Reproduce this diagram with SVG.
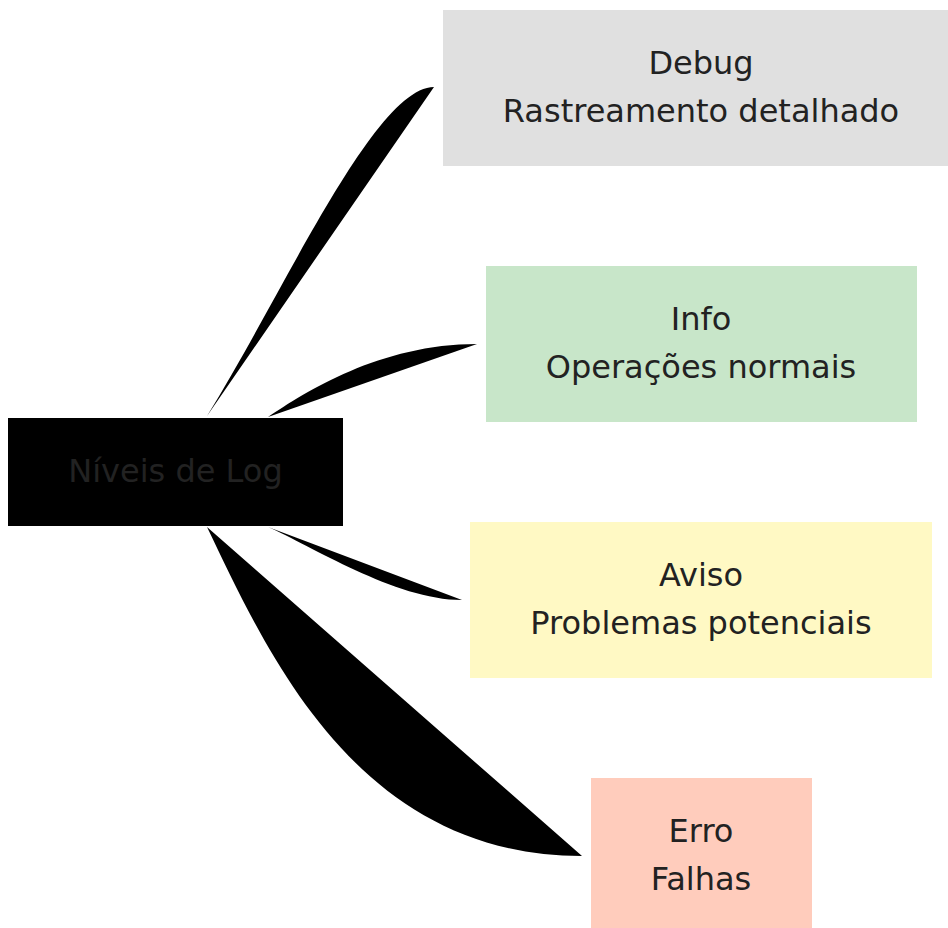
<svg xmlns="http://www.w3.org/2000/svg" width="948" height="928" viewBox="0 0 948 928">
<style>
.lbl{font-family:"DejaVu Sans","Liberation Sans",sans-serif;font-size:32px;fill:#222;text-anchor:middle}
.edge{fill:#000;stroke:none}
</style>
<rect width="948" height="928" fill="#fff"/>
<g id="connectors">
<path class="edge" d="M207,416 C285,290 375,87 434,87 Z"/>
<path class="edge" d="M268,417 C305,392 380,344 477,344 Z"/>
<path class="edge" d="M268,527 C310,545 395,600 462,600 Z"/>
<path class="edge" d="M207,527 C267.5,653 357,856 582,856 Z"/>
</g>
<g id="root">
<rect x="8" y="418" width="335" height="108" fill="#000"/>
<text class="lbl" x="175.5" y="482">Níveis de Log</text>
</g>
<g id="debug">
<rect x="443" y="10" width="516" height="156" fill="#e0e0e0"/>
<text class="lbl" x="701" y="74">Debug</text>
<text class="lbl" x="701" y="122">Rastreamento detalhado</text>
</g>
<g id="info">
<rect x="486" y="266" width="431" height="156" fill="#c8e6c9"/>
<text class="lbl" x="701" y="330">Info</text>
<text class="lbl" x="701" y="378">Operações normais</text>
</g>
<g id="aviso">
<rect x="470" y="522" width="462" height="156" fill="#fff9c4"/>
<text class="lbl" x="701" y="586">Aviso</text>
<text class="lbl" x="701" y="634">Problemas potenciais</text>
</g>
<g id="erro">
<rect x="591" y="778" width="221" height="156" fill="#ffccbc"/>
<text class="lbl" x="701" y="842">Erro</text>
<text class="lbl" x="701" y="890">Falhas</text>
</g>
</svg>
